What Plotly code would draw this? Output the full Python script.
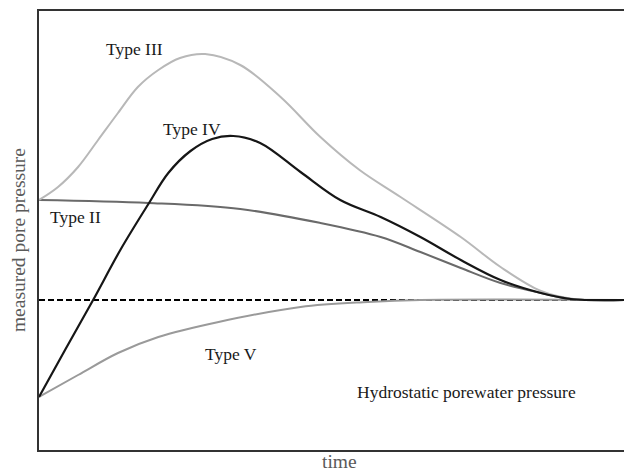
import plotly.graph_objects as go

# =============================================================================
# DATA (time in % of record, pressure relative to hydrostatic = 0)
# =============================================================================

T3_X = [0, 3.25, 6.68, 10.1, 13.5, 16.9, 20.4, 24.1, 28.4, 34.4, 41.3, 48.1, 54.8, 61.8,
        72.1, 78.9, 85.8, 91.4, 100]
T3_Y = [1.0, 1.13, 1.33, 1.60, 1.87, 2.13, 2.30, 2.42, 2.46, 2.35, 2.03, 1.63, 1.30, 1.03,
        0.63, 0.33, 0.09, 0.01, 0.0]

T4_X = [0, 4.45, 9.25, 14.0, 18.7, 22.1, 25.9, 29.6, 33.2, 37.8, 44.7, 51.5, 58.4, 65.2,
        72.1, 78.9, 85.8, 90.9, 100]
T4_Y = [-0.97, -0.50, 0.0, 0.51, 0.96, 1.27, 1.49, 1.61, 1.64, 1.57, 1.28, 1.00, 0.83, 0.63,
        0.40, 0.20, 0.07, 0.01, 0.0]

T2_X = [0, 18.7, 34.4, 48.1, 58.4, 65.2, 72.1, 78.9, 85.8, 90.9, 100]
T2_Y = [1.0, 0.97, 0.91, 0.77, 0.63, 0.48, 0.32, 0.17, 0.07, 0.01, 0.0]

T5_X = [0, 6.68, 13.5, 20.4, 30.7, 44.7, 56.2, 65.2, 100]
T5_Y = [-0.97, -0.75, -0.53, -0.37, -0.22, -0.07, -0.02, 0.0, 0.0]

HYDRO_X = [0, 100]
HYDRO_Y = [0, 0]

# =============================================================================
# STYLE
# =============================================================================

SERIF = "Liberation Serif, Times New Roman, serif"
LABEL_FONT = dict(family=SERIF, size=17.5, color="#1a1a1a")
AXIS_FONT = dict(family=SERIF, size=19.5, color="#5a5a5a")

fig = go.Figure()


def add_curve(x, y, colour, width=2.0):
    fig.add_trace(
        go.Scatter(
            x=x,
            y=y,
            mode="lines",
            line=dict(color=colour, width=width, shape="spline", smoothing=1.0),
            hoverinfo="skip",
            showlegend=False,
        )
    )


# hydrostatic line
fig.add_trace(
    go.Scatter(
        x=HYDRO_X,
        y=HYDRO_Y,
        mode="lines",
        line=dict(color="#000000", width=2, dash="6px,3px"),
        hoverinfo="skip",
        showlegend=False,
    )
)

add_curve(T5_X, T5_Y, "#9a9a9a")
add_curve(T2_X, T2_Y, "#6a6a6a")
add_curve(T3_X, T3_Y, "#b8b8b8")
add_curve(T4_X, T4_Y, "#161616", 2.2)

# curve labels
labels = [
    ("Type III", 16.35, 2.51),
    ("Type IV", 26.2, 1.71),
    ("Type II", 6.16, 0.83),
    ("Type V", 32.9, -0.54),
    ("Hydrostatic porewater pressure", 73.1, -0.92),
]
for text, x, y in labels:
    fig.add_annotation(x=x, y=y, text=text, showarrow=False, font=LABEL_FONT)

# axis titles
fig.add_annotation(
    xref="paper", yref="paper", x=-0.036, y=0.478,
    text="measured pore pressure", textangle=-90, showarrow=False,
    font=AXIS_FONT, xanchor="center", yanchor="middle",
)
fig.add_annotation(
    xref="paper", yref="paper", x=0.513, y=-0.027,
    text="time", showarrow=False,
    font=AXIS_FONT, xanchor="center", yanchor="middle",
)

fig.update_xaxes(
    range=[0, 100],
    showgrid=False, zeroline=False, showticklabels=False, ticks="",
    showline=True, linecolor="#333333", linewidth=2, mirror=True,
)
fig.update_yaxes(
    range=[-1.5, 2.89],
    showgrid=False, zeroline=False, showticklabels=False, ticks="",
    showline=True, linecolor="#333333", linewidth=2,
)

fig.update_layout(
    width=624,
    height=471,
    template="plotly_white",
    paper_bgcolor="white",
    plot_bgcolor="white",
    margin=dict(l=39, r=0, t=11, b=21),
)

# drop the default page margin so the figure sits at the window corner
fig.write_html(
    "out.html",
    config={"displayModeBar": False},
    post_script="document.body.style.margin='0';",
)
